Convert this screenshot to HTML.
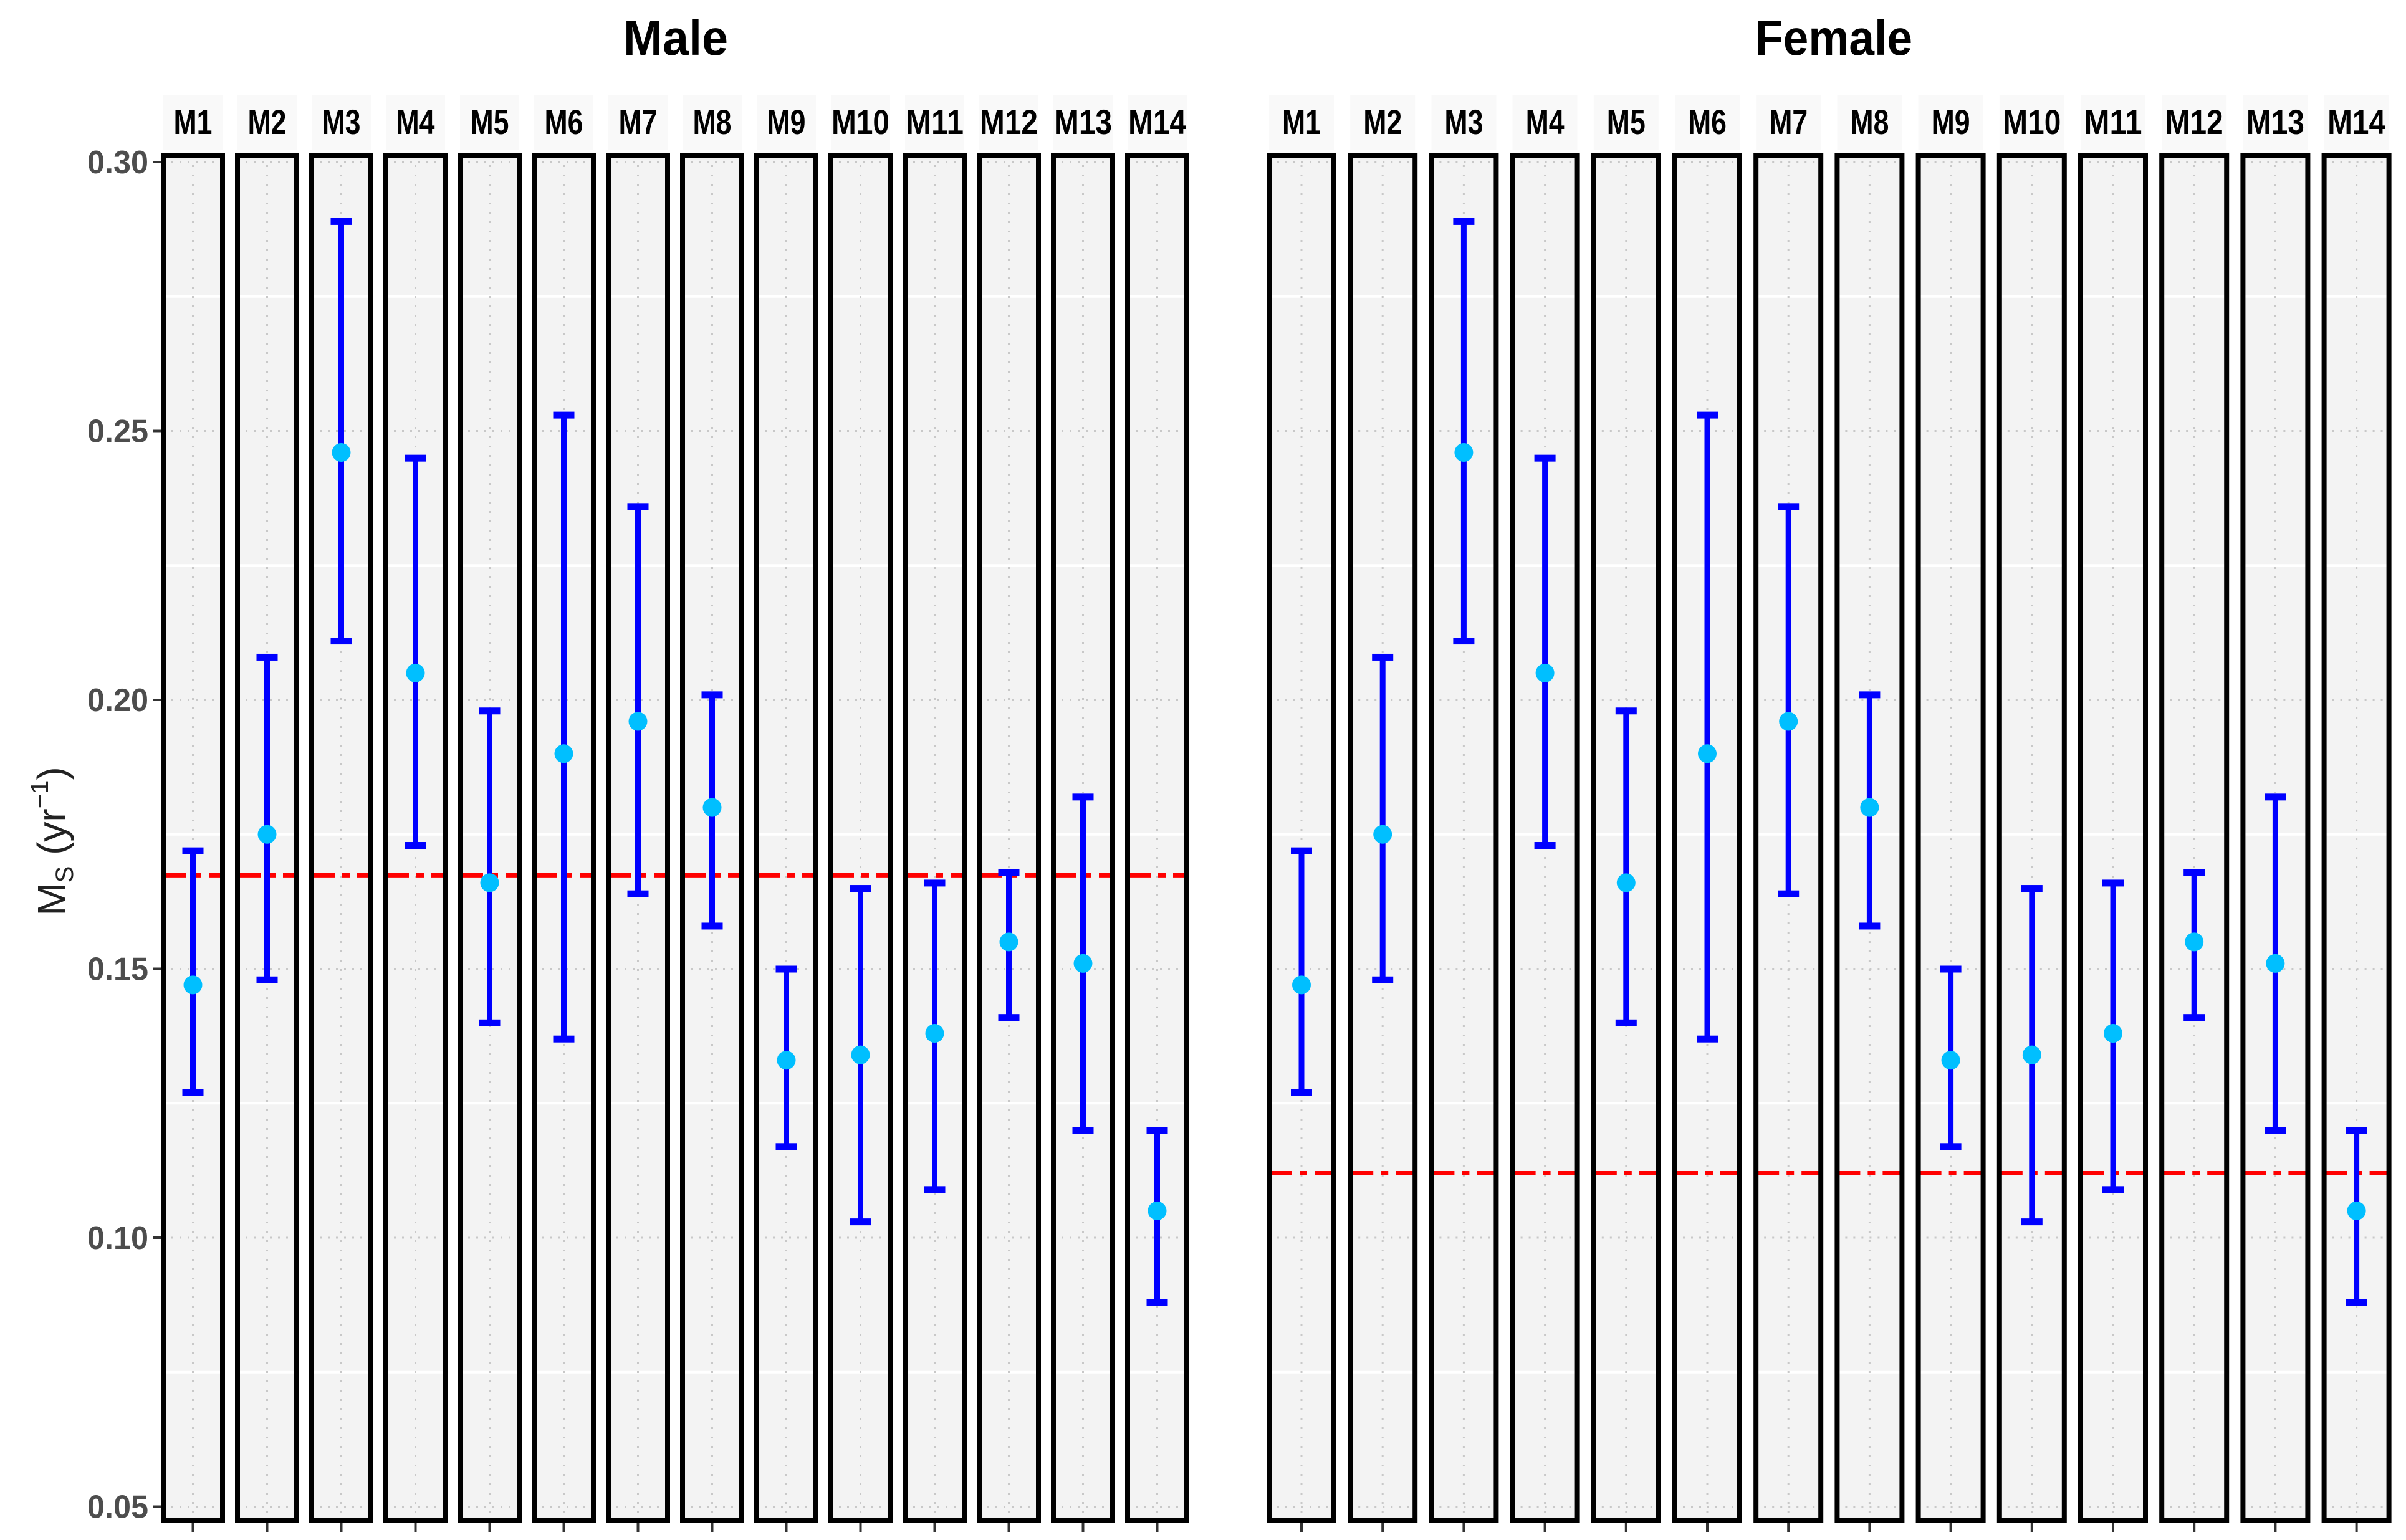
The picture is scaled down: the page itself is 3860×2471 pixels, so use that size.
<!DOCTYPE html>
<html><head><meta charset="utf-8"><style>
html,body{margin:0;padding:0;background:#fff;}
svg{display:block;}
</style></head><body>
<svg id="chart" width="3860" height="2471" viewBox="0 0 3860 2471" xmlns="http://www.w3.org/2000/svg" font-family="'Liberation Sans', sans-serif">
<rect width="3860" height="2471" fill="#fff"/>
<g id="content"></g>
</svg>
<script>
const models = ["M1","M2","M3","M4","M5","M6","M7","M8","M9","M10","M11","M12","M13","M14"];
const estMale = [0.147,0.175,0.246,0.205,0.166,0.190,0.196,0.180,0.133,0.134,0.138,0.155,0.151,0.105];
const lowMale = [0.127,0.148,0.211,0.173,0.140,0.137,0.164,0.158,0.117,0.103,0.109,0.141,0.120,0.088];
const highMale = [0.172,0.208,0.289,0.245,0.198,0.253,0.236,0.201,0.150,0.165,0.166,0.168,0.182,0.120];
const estFemale = [0.147,0.175,0.246,0.205,0.166,0.190,0.196,0.180,0.133,0.134,0.138,0.155,0.151,0.105];
const lowFemale = [0.127,0.148,0.211,0.173,0.140,0.137,0.164,0.158,0.117,0.103,0.109,0.141,0.120,0.088];
const highFemale = [0.172,0.208,0.289,0.245,0.198,0.253,0.236,0.201,0.150,0.165,0.166,0.168,0.182,0.120];
const refMale = 0.1674;
const refFemale = 0.112;
const yTicks = [0.30,0.25,0.20,0.15,0.10,0.05];
const yTickLabels = ["0.30","0.25","0.20","0.15","0.10","0.05"];
const yMinor = [0.275,0.225,0.175,0.125,0.075];

const NS = "http://www.w3.org/2000/svg";
const root = document.getElementById('content');
function y(v){ return 260 + (0.30 - v) / 0.05 * 431.5; }
function el(tag, attrs, parent){
  const e = document.createElementNS(NS, tag);
  for (const k in attrs) e.setAttribute(k, attrs[k]);
  (parent || root).appendChild(e);
  return e;
}
const PTOP = 250, PBOT = 2440;

const facets = [
  {name:"Male", left:262, pitch:119, w:95, est:estMale, low:lowMale, high:highMale, ref:refMale, cx:1084},
  {name:"Female", left:2036, pitch:130.2, w:104, est:estFemale, low:lowFemale, high:highFemale, ref:refFemale, cx:2942}
];

facets.forEach(f => {
  const g = el('g', {});
  
  
  const t = el('text', {x:f.cx, y:88, 'text-anchor':'middle', 'font-size':80, 'font-weight':'bold', fill:'#000', textLength: f.name.length*42, lengthAdjust:'spacingAndGlyphs'}, g);
  t.textContent = f.name;
  
  

  models.forEach((m, i) => {
    const x0 = f.left + i * f.pitch;
    const cx = x0 + f.w / 2;
    const pg = el('g', {}, g);
    
    
    const sr = el('rect', {x:x0, y:153, width:f.w, height:88, fill:'#f9f9f9'}, pg);
    
    
    const st = el('text', {x:cx, y:215, 'text-anchor':'middle', 'font-size':56, 'font-weight':'bold', fill:'#000', textLength: m.length*31, lengthAdjust:'spacingAndGlyphs'}, pg);
    st.textContent = m;
    
    
    el('rect', {x:x0, y:PTOP, width:f.w, height:PBOT-PTOP, fill:'#f3f3f3'}, pg);
    yMinor.forEach(v => el('line', {x1:x0, x2:x0+f.w, y1:y(v), y2:y(v), stroke:'#fff', 'stroke-width':4}, pg));
    yTicks.forEach(v => el('line', {x1:x0, x2:x0+f.w, y1:y(v), y2:y(v), stroke:'#c8c8c8', 'stroke-width':3, 'stroke-dasharray':'3 10'}, pg));
    el('line', {x1:cx, x2:cx, y1:PTOP, y2:PBOT, stroke:'#c8c8c8', 'stroke-width':3, 'stroke-dasharray':'3 12'}, pg);
    const rl = el('line', {x1:x0, x2:x0+f.w, y1:y(f.ref), y2:y(f.ref), stroke:'#ff0000', 'stroke-width':7, 'stroke-dasharray':'37 12 12 12'}, pg);
    
    
    const eb = el('g', {fill:'#0000ff'}, pg);
    
    
    const yh = y(f.high[i]), yl = y(f.low[i]);
    el('line', {x1:cx, x2:cx, y1:yh, y2:yl, stroke:'#0000ff', 'stroke-width':9}, eb);
    el('rect', {x:cx-17, y:yh-5, width:34, height:11}, eb);
    el('rect', {x:cx-17, y:yl-5, width:34, height:11}, eb);
    const pt = el('circle', {cx:cx, cy:y(f.est[i]), r:15, fill:'#00bfff'}, pg);
    
    
    el('rect', {x:x0, y:PTOP, width:f.w, height:PBOT-PTOP, fill:'none', stroke:'#000', 'stroke-width':8}, pg);
    el('line', {x1:cx, x2:cx, y1:PBOT+4, y2:PBOT+18, stroke:'#333', 'stroke-width':4}, pg);
  });
});

const ya = el('g', {});


yTicks.forEach((v, i) => {
  el('line', {x1:245, x2:258, y1:y(v), y2:y(v), stroke:'#333', 'stroke-width':4}, ya);
  const t = el('text', {x:238, y:y(v)+18, 'text-anchor':'end', 'font-size':52, 'font-weight':'bold', fill:'#4d4d4d', textLength:98, lengthAdjust:'spacingAndGlyphs'}, ya);
  t.textContent = yTickLabels[i];
  
  
});
const yt = el('text', {transform:'translate(105,1350) rotate(-90)', 'text-anchor':'middle', 'font-size':64, fill:'#222'});


yt.innerHTML = 'M<tspan font-size="40" dy="12">S</tspan><tspan dy="-12"> (yr</tspan><tspan font-size="40" dy="-28">−1</tspan><tspan dy="28">)</tspan>';
</script>
</body></html>
